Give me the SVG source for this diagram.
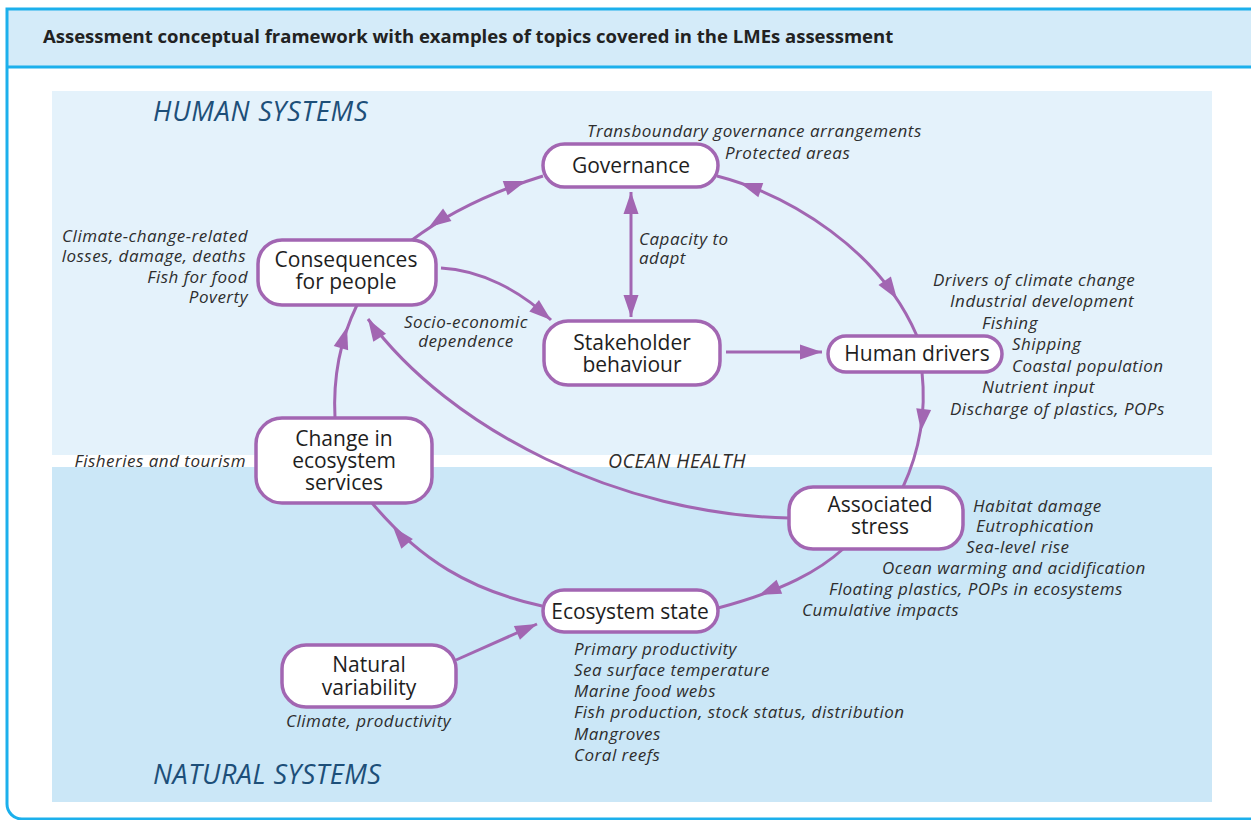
<svg xmlns="http://www.w3.org/2000/svg" xmlns:xlink="http://www.w3.org/1999/xlink" width="1251" height="820" viewBox="0 0 1251 820">
<style>
.node rect{fill:#ffffff;stroke:#a266b2;stroke-width:3.5}
.nt{font-family:"Open Sans","Noto Sans","Liberation Sans",sans-serif;font-size:21px;fill:#1e1e1e;text-anchor:middle}
.lb{font-family:"Open Sans","Noto Sans","Liberation Sans",sans-serif;font-style:italic;font-size:17px;letter-spacing:0.5px;fill:#2e2e2e}
.r{text-anchor:end}
.m{text-anchor:middle}
.sys{font-family:"Open Sans","Noto Sans","Liberation Sans",sans-serif;font-style:italic;font-size:27px;letter-spacing:0.8px;fill:#1d4f79}
.hd{font-family:"Open Sans","Noto Sans","Liberation Sans",sans-serif;font-weight:bold;font-size:18.5px;fill:#222222}
.conn path{fill:none;stroke:#a266b2;stroke-width:3}
.ah{fill:#a266b2}
</style>
<defs>
<path id="ah" class="ah" d="M0,0 L-22,-7.5 L-22,7.5 Z"/>
</defs>
<rect x="0" y="0" width="1251" height="820" fill="#ffffff"/>
<rect x="7" y="9" width="1250" height="58" fill="#d4ebf9"/>
<path d="M1260,9 H7 V804 A15,15 0 0 0 22,819 H1260" fill="none" stroke="#1cb0ec" stroke-width="3"/>
<line x1="7" y1="67" x2="1260" y2="67" stroke="#1cb0ec" stroke-width="3"/>
<text class="hd" x="43" y="43">Assessment conceptual framework with examples of topics covered in the LMEs assessment</text>
<rect x="52" y="91" width="1160" height="364" fill="#e4f2fb"/>
<rect x="52" y="467" width="1160" height="335" fill="#cbe7f7"/>
<text class="sys" x="153" y="121">HUMAN SYSTEMS</text>
<text class="sys" x="153" y="784" style="letter-spacing:0.5px">NATURAL SYSTEMS</text>
<text class="lb" x="608" y="468" style="font-size:19.5px">OCEAN HEALTH</text>

<g class="conn">
<path d="M412,240 Q465,200 543,176"/>
<path d="M631,192 V317"/>
<path d="M441,268 C480,270 520,290 551,320"/>
<path d="M726,352 H822"/>
<path d="M717,176 C790,195 880,250 917,336"/>
<path d="M922,372 C926,410 920,450 903,487"/>
<path d="M789,518 C620,515 450,430 368,319"/>
<path d="M843,549 C820,570 785,590 718,608"/>
<path d="M542,606 C470,590 420,560 372,503"/>
<path d="M335,418 C333,380 340,340 357,305"/>
<path d="M456,660 L537,624"/>
<use xlink:href="#ah" transform="translate(429,227) rotate(146)"/>
<use xlink:href="#ah" transform="translate(526,181) rotate(-19)"/>
<use xlink:href="#ah" transform="translate(631,192) rotate(-90)"/>
<use xlink:href="#ah" transform="translate(631,317) rotate(90)"/>
<use xlink:href="#ah" transform="translate(551,320) rotate(40)"/>
<use xlink:href="#ah" transform="translate(822,352) rotate(0)"/>
<use xlink:href="#ah" transform="translate(740,183) rotate(199)"/>
<use xlink:href="#ah" transform="translate(897,299) rotate(56)"/>
<use xlink:href="#ah" transform="translate(921,431) rotate(97)"/>
<use xlink:href="#ah" transform="translate(368,319) rotate(-122)"/>
<use xlink:href="#ah" transform="translate(759,595) rotate(158)"/>
<use xlink:href="#ah" transform="translate(393,527) rotate(-130)"/>
<use xlink:href="#ah" transform="translate(347,327) rotate(-74)"/>
<use xlink:href="#ah" transform="translate(537,624) rotate(-24)"/>
</g>

<g id="governance" class="node">
<rect x="543" y="144" width="175" height="43" rx="21.5"/>
<text class="nt" x="631" y="173">Governance</text>
</g>
<g id="consequences" class="node">
<rect x="258" y="240" width="178" height="65" rx="24"/>
<text class="nt" x="346" y="267">Consequences</text>
<text class="nt" x="346" y="289">for people</text>
</g>
<g id="stakeholder" class="node">
<rect x="544" y="321" width="176" height="64" rx="24"/>
<text class="nt" x="632" y="350">Stakeholder</text>
<text class="nt" x="632" y="372">behaviour</text>
</g>
<g id="humandrivers" class="node">
<rect x="828" y="336" width="174" height="36" rx="18"/>
<text class="nt" x="917" y="361">Human drivers</text>
</g>
<g id="changeservices" class="node">
<rect x="256" y="418" width="176" height="85" rx="26"/>
<text class="nt" x="344" y="446">Change in</text>
<text class="nt" x="344" y="468">ecosystem</text>
<text class="nt" x="344" y="490">services</text>
</g>
<g id="associatedstress" class="node">
<rect x="789" y="487" width="174" height="62" rx="24"/>
<text class="nt" x="880" y="512">Associated</text>
<text class="nt" x="880" y="534">stress</text>
</g>
<g id="ecosystemstate" class="node">
<rect x="543" y="590" width="175" height="42" rx="21"/>
<text class="nt" x="630" y="619">Ecosystem state</text>
</g>
<g id="naturalvariability" class="node">
<rect x="282" y="645" width="174" height="62" rx="24"/>
<text class="nt" x="369" y="672">Natural</text>
<text class="nt" x="369" y="695">variability</text>
</g>

<g id="labels">
<text class="lb" x="587" y="137">Transboundary governance arrangements</text>
<text class="lb" x="725" y="159">Protected areas</text>
<text class="lb" x="639" y="245">Capacity to</text>
<text class="lb" x="639" y="264">adapt</text>
<text class="lb m" x="466" y="328">Socio-economic</text>
<text class="lb m" x="466" y="347">dependence</text>
<text class="lb r" x="248" y="242">Climate-change-related</text>
<text class="lb r" x="246" y="262">losses, damage, deaths</text>
<text class="lb r" x="248" y="283">Fish for food</text>
<text class="lb r" x="248" y="303">Poverty</text>
<text class="lb r" x="246" y="467">Fisheries and tourism</text>
<text class="lb" x="933" y="286">Drivers of climate change</text>
<text class="lb" x="950" y="307">Industrial development</text>
<text class="lb" x="982" y="329">Fishing</text>
<text class="lb" x="1012" y="350">Shipping</text>
<text class="lb" x="1012" y="372">Coastal population</text>
<text class="lb" x="982" y="393">Nutrient input</text>
<text class="lb" x="950" y="415">Discharge of plastics, POPs</text>
<text class="lb" x="973" y="512">Habitat damage</text>
<text class="lb" x="976" y="532">Eutrophication</text>
<text class="lb" x="966" y="553">Sea-level rise</text>
<text class="lb" x="882" y="574">Ocean warming and acidification</text>
<text class="lb" x="829" y="595">Floating plastics, POPs in ecosystems</text>
<text class="lb" x="802" y="616">Cumulative impacts</text>
<text class="lb" x="574" y="655">Primary productivity</text>
<text class="lb" x="574" y="676">Sea surface temperature</text>
<text class="lb" x="574" y="697">Marine food webs</text>
<text class="lb" x="574" y="718">Fish production, stock status, distribution</text>
<text class="lb" x="574" y="740">Mangroves</text>
<text class="lb" x="574" y="761">Coral reefs</text>
<text class="lb" x="286" y="727">Climate, productivity</text>
</g>
</svg>
